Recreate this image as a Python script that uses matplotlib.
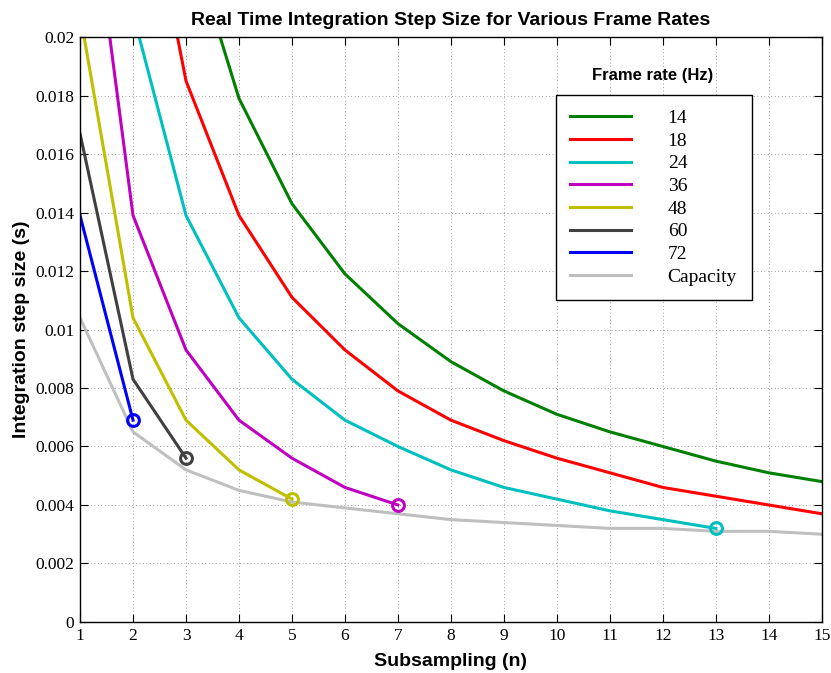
import matplotlib
matplotlib.use("Agg")
import matplotlib.pyplot as plt

# subsampling factor n and step size (s) for each frame rate
n = list(range(1, 16))

rates = ["14", "18", "24", "36", "48", "60", "72"]
start = {"14": 3, "18": 2, "24": 2, "36": 1, "48": 1, "60": 1, "72": 1}
steps = {
    "14": [0.0238, 0.0179, 0.0143, 0.0119, 0.0102, 0.0089, 0.0079, 0.0071, 0.0065, 0.0060, 0.0055, 0.0051, 0.0048],
    "18": [0.0278, 0.0185, 0.0139, 0.0111, 0.0093, 0.0079, 0.0069, 0.0062, 0.0056, 0.0051, 0.0046, 0.0043, 0.0040, 0.0037],
    "24": [0.0208, 0.0139, 0.0104, 0.0083, 0.0069, 0.0060, 0.0052, 0.0046, 0.0042, 0.0038, 0.0035, 0.0032],
    "36": [0.0278, 0.0139, 0.0093, 0.0069, 0.0056, 0.0046, 0.0040],
    "48": [0.0208, 0.0104, 0.0069, 0.0052, 0.0042],
    "60": [0.0167, 0.0083, 0.0056],
    "72": [0.0139, 0.0069],
}
capacity = [0.0104, 0.0065, 0.0052, 0.0045, 0.0041, 0.0039, 0.0037, 0.0035,
            0.0034, 0.0033, 0.0032, 0.0032, 0.0031, 0.0031, 0.0030]

colors = {"14": (0, 0.5, 0), "18": (1, 0, 0), "24": (0, 0.75, 0.75),
          "36": (0.75, 0, 0.75), "48": (0.75, 0.75, 0), "60": (0.25, 0.25, 0.25),
          "72": (0, 0, 1)}
cap_color = (0.75, 0.75, 0.75)

yticks = [0, 0.002, 0.004, 0.006, 0.008, 0.01, 0.012, 0.014, 0.016, 0.018, 0.02]
ytick_labels = ["0", "0.002", "0.004", "0.006", "0.008", "0.01", "0.012",
                "0.014", "0.016", "0.018", "0.02"]

serif = "Liberation Serif"
sans = "Liberation Sans"

fig = plt.figure(figsize=(8.31, 6.73), dpi=100)
ax = fig.add_axes([0.0963, 0.0758, 0.8927, 0.8692])

cap_line, = ax.plot(n, capacity, color=cap_color, lw=2.2, label="Capacity")
handles = []
for r in rates:
    xs = n[start[r] - 1:start[r] - 1 + len(steps[r])]
    h, = ax.plot(xs, steps[r], color=colors[r], lw=2.2, label=r)
    handles.append(h)
    if r not in ("14", "18"):
        ax.plot(xs[-1], steps[r][-1], "o", mfc="none", mec=colors[r], mew=2.2, ms=8.5)
handles.append(cap_line)

ax.set_xlim(1, 15)
ax.set_ylim(0, 0.02)
ax.set_xticks(n)
ax.set_xticklabels([str(v) for v in n], fontfamily=serif, fontsize=12.5)
ax.set_yticks(yticks)
ax.set_yticklabels(ytick_labels, fontfamily=serif, fontsize=12.5)
ax.tick_params(direction="in", top=True, right=True, length=5.5, width=0.8, pad=4)
ax.grid(True, linestyle=(0, (1, 4)), color="0.3", linewidth=0.5)
for s in ax.spines.values():
    s.set_linewidth(1.0)

ax.set_title("Real Time Integration Step Size for Various Frame Rates",
             fontfamily=sans, fontweight="bold", fontsize=14, pad=9)
ax.set_xlabel("Subsampling (n)", fontfamily=sans, fontweight="bold", fontsize=14, labelpad=7)
ax.set_ylabel("Integration step size (s)", fontfamily=sans, fontweight="bold", fontsize=14, labelpad=4)

leg = ax.legend(handles=handles, loc="upper left", bbox_to_anchor=(0.6415, 0.901),
                prop={"family": serif, "size": 14}, frameon=True, fancybox=False,
                edgecolor="black", framealpha=1, handlelength=3.1, handletextpad=1.9,
                labelspacing=0.26, borderpad=0.75, borderaxespad=0)
leg.get_frame().set_linewidth(1.0)
ax.text(0.772, 0.935, "Frame rate (Hz)", transform=ax.transAxes, ha="center", va="center",
        fontfamily=sans, fontweight="bold", fontsize=12)

fig.savefig("out.png", dpi=100)
